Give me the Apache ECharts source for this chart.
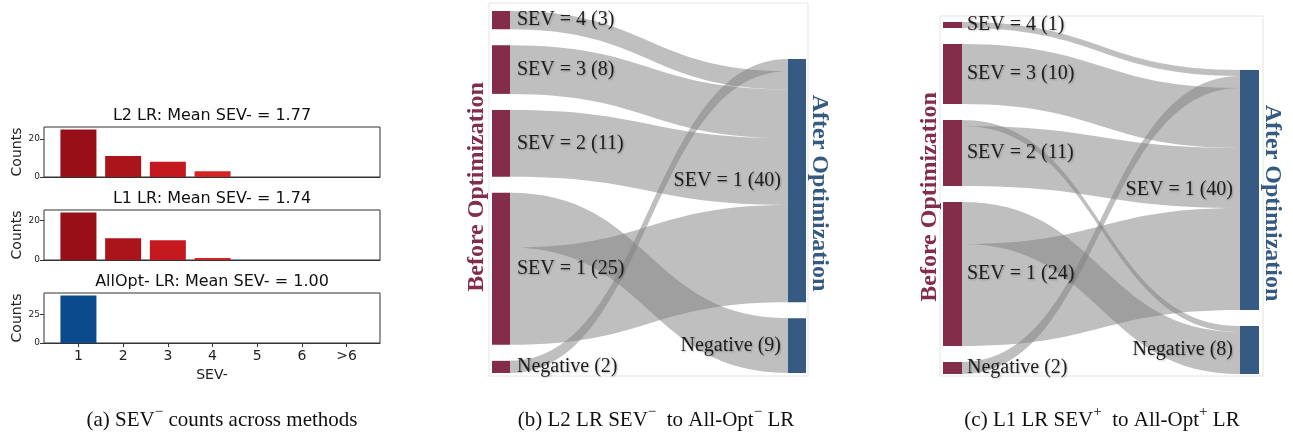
<!DOCTYPE html>
<html>
<head>
<meta charset="utf-8">
<script src="https://cdn.jsdelivr.net/npm/echarts@6.0.0/dist/echarts.min.js"></script>
<style>
  html, body { margin: 0; padding: 0; background: #fff; }
  #main { width: 1293px; height: 436px; }
</style>
</head>
<body>
<div id="main"></div>
<script>
  // ---- (a) SEV- counts ----
  var sevLevels = ['1', '2', '3', '4', '5', '6', '>6']
  var l2Counts = [25, 11, 8, 3, 0, 0, 0]
  var l1Counts = [24, 11, 10, 1, 0, 0, 0]
  var allOptCounts = [42, 0, 0, 0, 0, 0, 0]
  var barTitles = [
    'L2 LR: Mean SEV- = 1.77',
    'L1 LR: Mean SEV- = 1.74',
    'AllOpt- LR: Mean SEV- = 1.00'
  ]
  var countTicksL2 = [0, 20]
  var countTicksL1 = [0, 20]
  var countTicksAllOpt = [0, 25]

  // ---- (b) / (c) sankey ----
  var beforeNames = ['SEV = 4', 'SEV = 3', 'SEV = 2', 'SEV = 1', 'Negative']
  var afterNames = ['SEV = 1', 'Negative']

  var beforeCountsB = [3, 8, 11, 25, 2]
  var afterCountsB = [40, 9]
  var flowsB = [
    ['SEV = 4', 'SEV = 1', 3],
    ['SEV = 3', 'SEV = 1', 8],
    ['SEV = 2', 'SEV = 1', 11],
    ['SEV = 1', 'SEV = 1', 16],
    ['SEV = 1', 'Negative', 9],
    ['Negative', 'SEV = 1', 2]
  ]

  var beforeCountsC = [1, 10, 11, 24, 2]
  var afterCountsC = [40, 8]
  var flowsC = [
    ['SEV = 4', 'SEV = 1', 1],
    ['SEV = 3', 'SEV = 1', 10],
    ['SEV = 2', 'SEV = 1', 10],
    ['SEV = 2', 'Negative', 1],
    ['SEV = 1', 'SEV = 1', 17],
    ['SEV = 1', 'Negative', 7],
    ['Negative', 'SEV = 1', 2]
  ]

  // order ECharts uses to stack links on a node (gives the crossing links of the original)
  var linkOrderB = ['Negative', 'SEV = 4', 'SEV = 3', 'SEV = 2', 'SEV = 1']
  var linkOrderC = ['SEV = 4', 'Negative', 'SEV = 3', 'SEV = 2', 'SEV = 1']
  var linkOrderAfter = ['Negative', 'SEV = 1']

  var reds = ['#970f17', '#ab141a', '#c41a1f', '#d42323', '#d42323', '#d42323', '#d42323']
  var blue = '#0b4a8d'
  var maroon = '#832d4b'
  var navy = '#365a82'
  var serif = "'Liberation Serif', 'Times New Roman', serif"
  var sans = "'DejaVu Sans', sans-serif"

  var chart = echarts.init(document.getElementById('main'))

  var barPanels = [
    { counts: l2Counts, ticks: countTicksL2, top: 127, colors: reds, last: false },
    { counts: l1Counts, ticks: countTicksL1, top: 210, colors: reds, last: false },
    { counts: allOptCounts, ticks: countTicksAllOpt, top: 293, colors: [blue], last: true }
  ]

  var grids = [], xAxes = [], yAxes = [], series = []
  var levelTicks = sevLevels.map(function(s, i) { return i + 1 })

  barPanels.forEach(function(p, k) {
    grids.push({
      left: 44, top: p.top, width: 336, height: 50,
      show: true, borderColor: '#333', borderWidth: 1, containLabel: false
    })
    xAxes.push({
      type: 'value', gridIndex: k, min: 0.23, max: 7.745,
      axisLine: { show: true, lineStyle: { color: '#333' } },
      splitLine: { show: false },
      axisTick: { show: p.last, customValues: levelTicks, length: 4, lineStyle: { color: '#333' } },
      axisLabel: {
        show: p.last, customValues: levelTicks, margin: 6,
        fontFamily: sans, fontSize: 14, color: '#222',
        formatter: function(v) { return sevLevels[Math.round(v) - 1] }
      },
      name: p.last ? 'SEV-' : '', nameLocation: 'middle', nameGap: 25,
      nameTextStyle: { fontFamily: sans, fontSize: 14, color: '#222' }
    })
    var maxCount = Math.max.apply(null, p.counts)
    yAxes.push({
      type: 'value', gridIndex: k, min: 0, max: maxCount * 1.05,
      axisLine: { show: false },
      splitLine: { show: false },
      axisTick: { show: true, customValues: p.ticks, length: 4, lineStyle: { color: '#333' } },
      axisLabel: { customValues: p.ticks, margin: 4, fontFamily: sans, fontSize: 9, color: '#222' },
      name: 'Counts', nameLocation: 'middle', nameGap: 20, nameRotate: 90,
      nameTextStyle: { fontFamily: sans, fontSize: 14, color: '#222' }
    })
    series.push({
      type: 'bar', xAxisIndex: k, yAxisIndex: k, barWidth: 36, silent: true,
      data: p.counts.map(function(v, i) {
        return { value: [i + 1, v], itemStyle: { color: p.colors[Math.min(i, p.colors.length - 1)] } }
      })
    })
  })

  function sum(arr) { return arr.reduce(function(a, b) { return a + b }, 0) }

  function sankeySeries(cfg) {
    var H = cfg.height, gap = cfg.nodeGap
    var sumB = sum(cfg.before), sumA = sum(cfg.after)
    var ky = Math.min(
      (H - (beforeNames.length - 1) * gap) / sumB,
      (H - (afterNames.length - 1) * gap) / sumA
    )
    // visual stacking: left column from the top, right column from the bottom
    var localY = {}
    var y = 0
    beforeNames.forEach(function(n, i) {
      localY['B|' + n] = y / H
      y += cfg.before[i] * ky + gap
    })
    y = H - (sumA * ky + (afterNames.length - 1) * gap)
    afterNames.forEach(function(n, i) {
      localY['A|' + n] = y / H
      y += cfg.after[i] * ky + gap
    })

    var nodes = []
    cfg.linkOrder.forEach(function(n) {
      var i = beforeNames.indexOf(n)
      nodes.push({
        name: 'B|' + n, value: cfg.before[i], localY: localY['B|' + n],
        itemStyle: { color: maroon },
        label: { position: 'right', distance: cfg.labelGap, formatter: n + ' (' + cfg.before[i] + ')' }
      })
    })
    linkOrderAfter.forEach(function(n) {
      var i = afterNames.indexOf(n)
      nodes.push({
        name: 'A|' + n, value: cfg.after[i], localY: localY['A|' + n],
        itemStyle: { color: navy },
        label: { position: 'left', distance: 7, formatter: n + ' (' + cfg.after[i] + ')' }
      })
    })
    var links = cfg.flows.map(function(f) {
      return { source: 'B|' + f[0], target: 'A|' + f[1], value: f[2] }
    })

    return {
      type: 'sankey',
      left: cfg.left, top: cfg.top, width: cfg.width, height: H,
      nodeWidth: cfg.nodeWidth, nodeGap: gap,
      layoutIterations: 0, draggable: false, silent: true,
      emphasis: { disabled: true },
      itemStyle: { borderWidth: 0 },
      lineStyle: { color: '#7f7f7f', opacity: 0.5, curveness: 0.5 },
      label: {
        fontFamily: serif, fontSize: 20, color: '#1e1e1e',
        textShadowColor: 'rgba(0,0,0,0.25)', textShadowBlur: 2,
        textShadowOffsetX: 1, textShadowOffsetY: 1
      },
      data: nodes,
      links: links
    }
  }

  series.push(sankeySeries({
    before: beforeCountsB, after: afterCountsB, flows: flowsB, linkOrder: linkOrderB,
    left: 492, top: 11, width: 314, height: 362, nodeWidth: 18, nodeGap: 16, labelGap: 7
  }))
  series.push(sankeySeries({
    before: beforeCountsC, after: afterCountsC, flows: flowsC, linkOrder: linkOrderC,
    left: 943, top: 22, width: 316, height: 352, nodeWidth: 19, nodeGap: 16, labelGap: 5
  }))

  function txt(x, y, text, font, fill, rotation, rich) {
    return {
      type: 'text', x: x, y: y, rotation: rotation || 0, silent: true, z: 10,
      style: {
        text: text, font: font, fill: fill, rich: rich,
        align: 'center', verticalAlign: 'middle',
        textAlign: 'center', textVerticalAlign: 'middle'
      }
    }
  }

  var capRich = {
    n: { fontFamily: serif, fontSize: 21, color: '#111', lineHeight: 26, verticalAlign: 'bottom' },
    s: { fontFamily: serif, fontSize: 15, color: '#111', lineHeight: 15, verticalAlign: 'top' }
  }

  var graphics = [
    { type: 'rect', shape: { x: 489, y: 3, width: 319, height: 373 }, silent: true, z: 0,
      style: { fill: 'none', stroke: '#e4e4e4', lineWidth: 1 } },
    { type: 'rect', shape: { x: 940, y: 16, width: 323, height: 360 }, silent: true, z: 0,
      style: { fill: 'none', stroke: '#e4e4e4', lineWidth: 1 } },
    txt(212, 116, barTitles[0], '16px ' + sans, '#111'),
    txt(212, 199, barTitles[1], '16px ' + sans, '#111'),
    txt(212, 282, barTitles[2], '16px ' + sans, '#111'),
    txt(477, 187, 'Before Optimization', 'bold 24px ' + serif, maroon, Math.PI / 2),
    txt(819, 193, 'After Optimization', 'bold 24px ' + serif, navy, -Math.PI / 2),
    txt(930, 197, 'Before Optimization', 'bold 24px ' + serif, maroon, Math.PI / 2),
    txt(1272, 203, 'After Optimization', 'bold 24px ' + serif, navy, -Math.PI / 2),
    txt(222, 418, '{n|(a) SEV}{s|\u2212}{n| counts across methods}', '21px ' + serif, '#111', 0, capRich),
    txt(656, 418, '{n|(b) L2 LR SEV}{s|\u2212}{n|  to All-Opt}{s|\u2212}{n| LR}', '21px ' + serif, '#111', 0, capRich),
    txt(1102, 418, '{n|(c) L1 LR SEV}{s|+}{n|  to All-Opt}{s|+}{n| LR}', '21px ' + serif, '#111', 0, capRich)
  ]

  chart.setOption({
    animation: false,
    backgroundColor: '#fff',
    grid: grids,
    xAxis: xAxes,
    yAxis: yAxes,
    series: series,
    graphic: graphics
  })
</script>
</body>
</html>
